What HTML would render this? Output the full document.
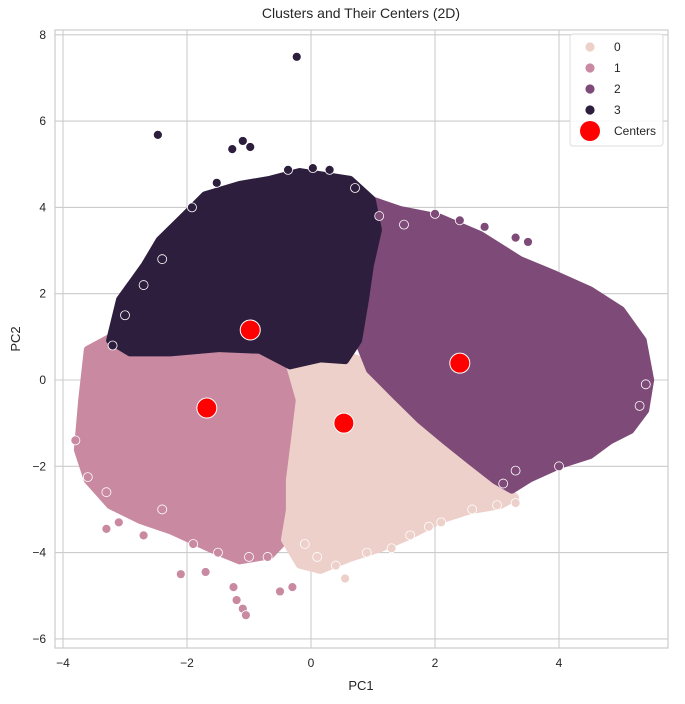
<!DOCTYPE html>
<html><head><meta charset="utf-8"><style>
body{margin:0;background:#fff;font-family:"Liberation Sans",sans-serif}
svg text{font-family:"Liberation Sans",sans-serif;fill:#262626}
</style></head><body>
<svg id="chart" width="685" height="699" xmlns="http://www.w3.org/2000/svg">
<rect width="685" height="699" fill="#fff"/>
<g id="grid"></g>
<g id="marks"></g>
<rect x="55" y="30" width="613" height="618" fill="none" stroke="#cccccc" stroke-width="1.2"/>
<g id="ticks"></g>
<text x="361" y="18" text-anchor="middle" font-size="14">Clusters and Their Centers (2D)</text>
<text x="361" y="690" text-anchor="middle" font-size="13">PC1</text>
<text x="20" y="339" text-anchor="middle" font-size="13" transform="rotate(-90 20 339)">PC2</text>
<g id="legend"></g>
</svg>
<script>
const xTicks=[-4,-2,0,2,4];
const yTicks=[-6,-4,-2,0,2,4,6,8];
const clusterLabels=["0","1","2","3"];
const clusterColors=["#ecd0c9","#c98aa1","#7e4a78","#2d1e3e"];
const hull0=[[-0.34,0.34],[0.15,0.5],[0.55,0.58],[0.79,0.46],[1.11,0],[1.35,-0.34],[1.76,-0.92],[2.16,-1.4],[2.56,-1.86],[2.97,-2.32],[3.29,-2.72],[3.05,-2.9],[2.56,-3.02],[2.08,-3.24],[1.6,-3.6],[1.11,-3.9],[0.63,-4.12],[0.15,-4.4],[-0.18,-4.28],[-0.42,-3.7],[-0.34,-3.02],[-0.34,-2.32],[-0.26,-1.4],[-0.18,-0.46]];
const hull1=[[-3.6,0.7],[-3.24,0.98],[-2.27,0.7],[-1.47,0.74],[-0.82,0.7],[-0.34,0.34],[-0.18,-0.46],[-0.26,-1.4],[-0.34,-2.32],[-0.34,-3.02],[-0.42,-3.7],[-0.66,-4.06],[-1.15,-4.18],[-1.63,-3.9],[-2.27,-3.48],[-2.76,-3.24],[-3.24,-2.9],[-3.6,-2.32],[-3.76,-1.62],[-3.69,-0.46]];
const hull2=[[0.95,4.18],[1.44,3.94],[2.08,3.76],[2.73,3.36],[3.37,2.78],[3.94,2.44],[4.5,2.08],[5.0,1.62],[5.35,0.92],[5.47,0],[5.39,-0.7],[5.15,-1.16],[4.82,-1.4],[4.5,-1.74],[4.02,-1.96],[3.53,-2.28],[3.24,-2.54],[2.97,-2.32],[2.56,-1.86],[2.16,-1.4],[1.76,-0.92],[1.35,-0.34],[0.95,0.24],[0.76,0.92],[0.87,2.08]];
const hull3=[[-3.24,0.92],[-3.08,1.86],[-2.68,2.66],[-2.44,3.24],[-2.03,3.82],[-1.71,4.28],[-1.15,4.52],[-0.66,4.64],[-0.18,4.82],[0.63,4.64],[0.98,4.18],[1.08,3.48],[0.95,2.66],[0.87,1.86],[0.76,0.92],[0.55,0.46],[0.15,0.5],[-0.34,0.34],[-0.82,0.7],[-1.47,0.74],[-2.27,0.64],[-2.92,0.64]];
const outX0=[0.4,0.55,0.9,1.3,1.6,2.1,3.0,3.3,0.1,-0.1,2.6,1.9];
const outY0=[-4.3,-4.6,-4.0,-3.9,-3.6,-3.3,-2.9,-2.85,-4.1,-3.8,-3.0,-3.4];
const outX1=[-2.1,-1.7,-1.25,-1.2,-1.1,-1.05,-0.5,-0.3,-3.6,-3.3,-3.1,-2.7,-2.4,-3.8,-3.3,-1.9,-1.5,-1.0,-0.7];
const outY1=[-4.5,-4.45,-4.8,-5.1,-5.3,-5.45,-4.9,-4.8,-2.25,-3.45,-3.3,-3.6,-3.0,-1.4,-2.6,-3.8,-4.0,-4.1,-4.1];
const outX2=[2.0,2.4,2.8,3.3,3.5,1.5,5.4,5.3,4.0,3.1,3.3,1.1];
const outY2=[3.85,3.7,3.55,3.3,3.2,3.6,-0.1,-0.6,-2.0,-2.4,-2.1,3.8];
const outX3=[-0.23,-2.47,-1.1,-0.98,-1.27,-1.92,-1.52,-0.37,0.03,0.3,0.71,-2.4,-3.0,-2.7,-3.2];
const outY3=[7.49,5.68,5.54,5.4,5.35,4.0,4.57,4.87,4.91,4.87,4.45,2.8,1.5,2.2,0.8];
const centerX=[-0.98,-1.68,0.53,2.4];
const centerY=[1.16,-0.65,-1.0,0.39];

const NS="http://www.w3.org/2000/svg";
function sx(v){return 311+v*62;}
function sy(v){return 380-v*43.15;}
function mk(tag,attrs,parent){const e=document.createElementNS(NS,tag);for(const k in attrs)e.setAttribute(k,attrs[k]);parent.appendChild(e);return e;}
const grid=document.getElementById('grid'),ticks=document.getElementById('ticks'),marks=document.getElementById('marks'),legend=document.getElementById('legend');
xTicks.forEach(t=>{
  const l=mk('line',{x1:sx(t),x2:sx(t),y1:30,y2:648,stroke:'#cccccc','stroke-width':1.1},grid);
  
  
  const tx=mk('text',{x:sx(t),y:667,'text-anchor':'middle','font-size':12},ticks);
  tx.textContent=(t<0?'\u2212'+(-t):t);
  
  
});
yTicks.forEach(t=>{
  const l=mk('line',{x1:55,x2:668,y1:sy(t),y2:sy(t),stroke:'#cccccc','stroke-width':1.1},grid);
  
  
  const tx=mk('text',{x:46,y:sy(t)+4,'text-anchor':'end','font-size':12},ticks);
  tx.textContent=(t<0?'\u2212'+(-t):t);
  
  
});
const hulls=[hull1,hull0,hull2,hull3];
const hullIdx=[1,0,2,3];
hulls.forEach((h,i)=>{
  const c=clusterColors[hullIdx[i]];
  const p=mk('polygon',{points:h.map(d=>sx(d[0])+','+sy(d[1])).join(' '),fill:c,stroke:c,'stroke-width':8,'stroke-linejoin':'round'},marks);
  
  
});
const outs=[[outX0,outY0],[outX1,outY1],[outX2,outY2],[outX3,outY3]];
outs.forEach((o,ci)=>{
  o[0].forEach((xv,j)=>{
    const c=mk('circle',{cx:sx(xv),cy:sy(o[1][j]),r:4.5,fill:clusterColors[ci],stroke:'#fff','stroke-width':0.8},marks);
    
    
  });
});
centerX.forEach((xv,i)=>{
  const c=mk('circle',{cx:sx(xv),cy:sy(centerY[i]),r:10,fill:'#ff0000',stroke:'#fff','stroke-width':1},marks);
  
  
});
const lb=mk('rect',{x:570,y:34,width:93,height:112,rx:3,fill:'#fff','fill-opacity':0.85,stroke:'#dddddd'},legend);


clusterLabels.forEach((lab,i)=>{
  const y=47+i*21;
  const c=mk('circle',{cx:590,cy:y,r:5,fill:clusterColors[i],stroke:'#fff','stroke-width':0.8},legend);
  
  
  const t=mk('text',{x:614,y:y+4,'font-size':12},legend);
  t.textContent=lab;
  
  
});
const cm=mk('circle',{cx:590,cy:131,r:10,fill:'#ff0000'},legend);


const ct=mk('text',{x:614,y:135,'font-size':12},legend);
ct.textContent='Centers';


</script>
</body></html>
